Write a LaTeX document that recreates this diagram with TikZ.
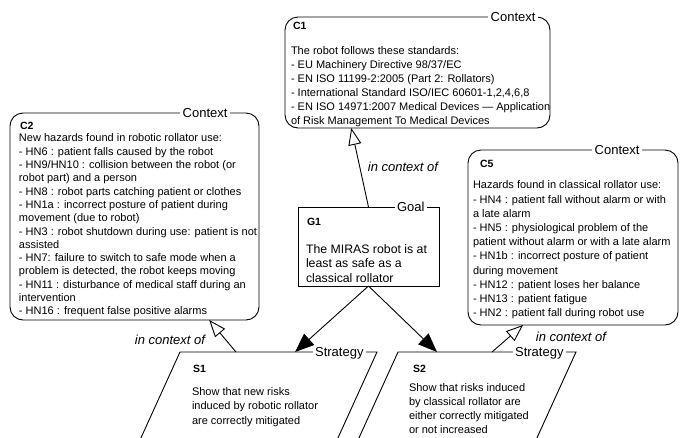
\documentclass[tikz,border=0pt]{standalone}
\usepackage{fontspec}
\setmainfont{Liberation Sans}
\usetikzlibrary{arrows.meta,calc}
\begin{document}
\begin{tikzpicture}[x=1pt,y=-1pt,
  every node/.style={inner sep=0pt,outer sep=0pt},
  ctxbox/.style={draw,line width=0.9pt,rounded corners=13pt,anchor=north west},
  goalbox/.style={draw,line width=0.9pt,anchor=north west},
  tag/.style={fill=white,inner xsep=2.5pt,inner ysep=1pt,anchor=base east,font=\fontsize{13}{13}\selectfont},
  idlabel/.style={anchor=base west,font=\bfseries\fontsize{10.5}{12}\selectfont},
  body/.style={align=left,anchor=north west},
  ctxlabel/.style={font=\itshape\fontsize{13}{13}\selectfont},
  ctxarrow/.style={line width=0.9pt,-{Triangle[open,length=17pt,width=13pt,fill=white]}},
  suparrow/.style={line width=0.9pt,-{Triangle[length=19pt,width=15pt]}},
  edgeline/.style={line width=0.9pt,line join=miter}
]
\useasboundingbox (0,0) rectangle (680,437);
\clip (0,0) rectangle (680,437);

% C1
\node[ctxbox,minimum width=265pt,minimum height=111pt] (c1) at (285,17) {};
\node[tag] (c1tag) at (538,21.5) {Context};
\node[idlabel] (c1id) at (293,29) {C1};
\node[body,font=\fontsize{11}{14}\selectfont] (c1txt) at (291,47) {The robot follows these standards:\\- EU Machinery Directive 98/37/EC\\- EN ISO 11199-2:2005 (Part 2: Rollators)\\- International Standard ISO/IEC 60601-1,2,4,6,8\\- EN ISO 14971:2007 Medical Devices — Application\\of Risk Management To Medical Devices};

% C2
\node[ctxbox,minimum width=249pt,minimum height=207pt] (c2) at (10,113) {};
\node[tag] (c2tag) at (230,117.5) {Context};
\node[idlabel] (c2id) at (20,129) {C2};
\node[body,font=\fontsize{11}{13.3}\selectfont] (c2txt) at (19,134) {New hazards found in robotic rollator use:\\- HN6 : patient falls caused by the robot\\- HN9/HN10 : collision between the robot (or\\robot part) and a person\\- HN8 : robot parts catching patient or clothes\\- HN1a : incorrect posture of patient during\\movement (due to robot)\\- HN3 : robot shutdown during use: patient is not\\assisted\\- HN7: failure to switch to safe mode when a\\problem is detected, the robot keeps moving\\- HN11 : disturbance of medical staff during an\\intervention\\- HN16 : frequent false positive alarms};

% C5
\node[ctxbox,minimum width=210pt,minimum height=175pt] (c5) at (468,150) {};
\node[tag] (c5tag) at (642,154.5) {Context};
\node[idlabel] (c5id) at (480,167) {C5};
\node[body,font=\fontsize{11}{14.2}\selectfont] (c5txt) at (473,181) {Hazards found in classical rollator use:\\- HN4 : patient fall without alarm or with\\a late alarm\\- HN5 : physiological problem of the\\patient without alarm or with a late alarm\\- HN1b : incorrect posture of patient\\during movement\\- HN12 : patient loses her balance\\- HN13 : patient fatigue\\- HN2 : patient fall during robot use};

% G1
\node[goalbox,minimum width=141pt,minimum height=79pt] (g1) at (298,207) {};
\node[tag] (g1tag) at (427,211.5) {Goal};
\node[idlabel] (g1id) at (307,225) {G1};
\node[body,font=\fontsize{12.3}{14.5}\selectfont] (g1txt) at (306,244.5) {The MIRAS robot is at\\least as safe as a\\classical rollator};

% S1
\coordinate (s1tl) at (180,352);
\coordinate (s1tr) at (377,352);
\coordinate (s1br) at (327,462);
\coordinate (s1bl) at (130,462);
\draw[edgeline] (s1tl) -- (s1tr) -- (s1br) -- (s1bl) -- cycle;
\node[tag] (s1tag) at (366,356.5) {Strategy};
\node[idlabel] (s1id) at (193,372) {S1};
\node[body,font=\fontsize{11}{14.5}\selectfont] (s1txt) at (192,387.5) {Show that new risks\\induced by robotic rollator\\are correctly mitigated};

% S2
\coordinate (s2tl) at (398,352);
\coordinate (s2tr) at (576,352);
\coordinate (s2br) at (526,462);
\coordinate (s2bl) at (348,462);
\draw[edgeline] (s2tl) -- (s2tr) -- (s2br) -- (s2bl) -- cycle;
\node[tag] (s2tag) at (566,356.5) {Strategy};
\node[idlabel] (s2id) at (413,372) {S2};
\node[body,font=\fontsize{11}{14}\selectfont] (s2txt) at (409,384) {Show that risks induced\\by classical rollator are\\either correctly mitigated\\or not increased};

% connectors
\draw[ctxarrow] ($(g1.north west)!0.5!(g1.north east)$) -- ($(c1.south west)!0.25!(c1.south east)$);
\draw[ctxarrow] ($(s1tl)!0.284!(s1tr)$) -- ($(c2.south west)!0.8!(c2.south east)$);
\draw[ctxarrow] ($(s2tl)!0.528!(s2tr)$) -- ($(c5.south west)!0.262!(c5.south east)$);
\draw[suparrow] (g1.south) -- ($(s1tl)!0.584!(s1tr)$);
\draw[suparrow] (g1.south) -- ($(s2tl)!0.219!(s2tr)$);

\node[ctxlabel] (l1) at (403,167) {in context of};
\node[ctxlabel] (l2) at (170,340) {in context of};
\node[ctxlabel] (l3) at (571,337) {in context of};
\end{tikzpicture}
\end{document}
